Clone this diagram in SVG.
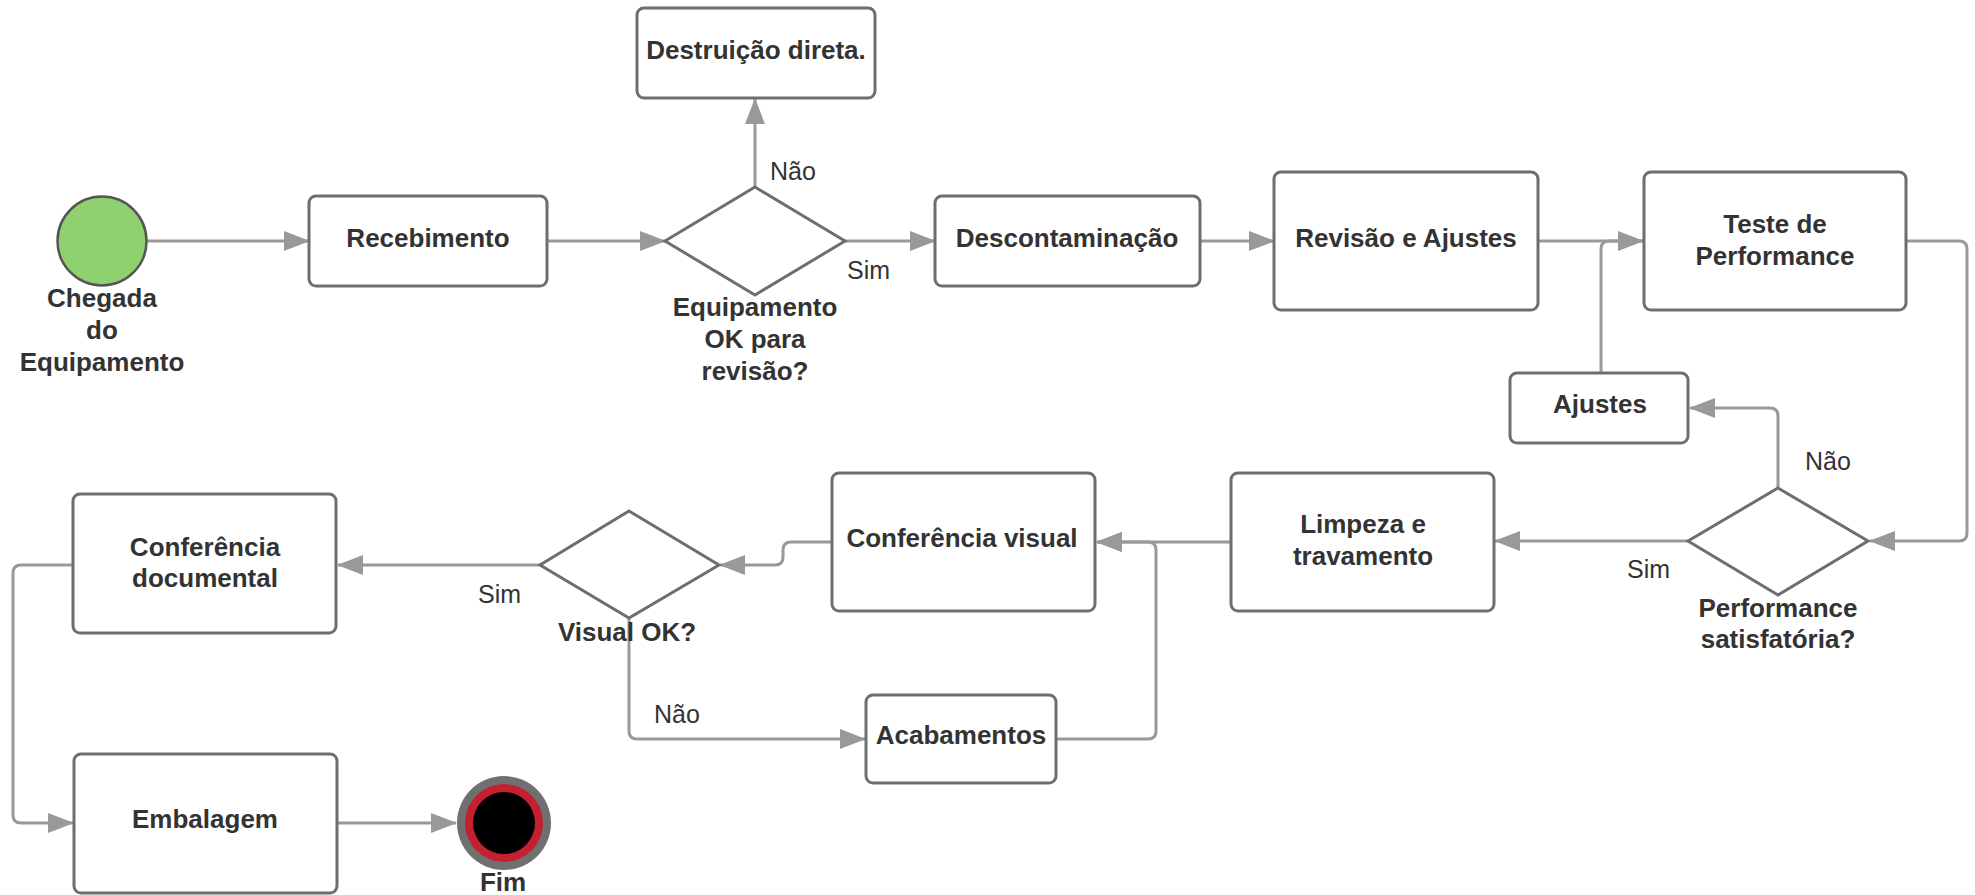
<svg xmlns="http://www.w3.org/2000/svg" width="1975" height="895" viewBox="0 0 1975 895">
<defs>
<marker id="arr" markerUnits="userSpaceOnUse" markerWidth="26" markerHeight="20" refX="25" refY="10" orient="auto">
<path d="M0,0 L26,10 L0,20 z" fill="#999"/>
</marker>
<style>
.box{fill:#fff;stroke:#6e6e6e;stroke-width:3}
.t{font-family:"Liberation Sans",Arial,sans-serif;font-size:26px;font-weight:bold;fill:#333;text-anchor:middle}
.l{font-family:"Liberation Sans",Arial,sans-serif;font-size:25px;fill:#333}
.c{fill:none;stroke:#999;stroke-width:3;stroke-linejoin:round}
</style>
</defs>
<rect width="1975" height="895" fill="#fff"/>
<g id="connectors">
<path class="c" d="M147,241 H309" marker-end="url(#arr)"/>
<path class="c" d="M547,241 H665" marker-end="url(#arr)"/>
<path class="c" d="M755,187 V99" marker-end="url(#arr)"/>
<path class="c" d="M845,241 H935" marker-end="url(#arr)"/>
<path class="c" d="M1200,241 H1274" marker-end="url(#arr)"/>
<path class="c" d="M1538,241 H1643" marker-end="url(#arr)"/>
<path class="c" d="M1601,373 V249 Q1601,241 1609,241 H1643"/>
<path class="c" d="M1906,241 H1959 Q1967,241 1967,249 V533 Q1967,541 1959,541 H1870" marker-end="url(#arr)"/>
<path class="c" d="M1778,488 V416 Q1778,408 1770,408 H1690" marker-end="url(#arr)"/>
<path class="c" d="M1688,541 H1495" marker-end="url(#arr)"/>
<path class="c" d="M1231,542 H1097" marker-end="url(#arr)"/>
<path class="c" d="M1056,739 H1148 Q1156,739 1156,731 V550 Q1156,542 1148,542 H1097" marker-end="url(#arr)"/>
<path class="c" d="M832,542 H791 Q783,542 783,550 V557 Q783,565 775,565 H720" marker-end="url(#arr)"/>
<path class="c" d="M540,565 H338" marker-end="url(#arr)"/>
<path class="c" d="M629,618 V731 Q629,739 637,739 H865" marker-end="url(#arr)"/>
<path class="c" d="M73,565 H21 Q13,565 13,573 V815 Q13,823 21,823 H73" marker-end="url(#arr)"/>
<path class="c" d="M337,823 H456" marker-end="url(#arr)"/>
</g>
<g id="start">
<circle cx="102" cy="241" r="44.5" fill="#8fd16e" stroke="#555" stroke-width="2.5"/>
<text class="t" x="102" y="307">Chegada</text>
<text class="t" x="102" y="339">do</text>
<text class="t" x="102" y="371">Equipamento</text>
</g>
<g id="recebimento">
<rect class="box" x="309" y="196" width="238" height="90" rx="7"/>
<text class="t" x="428" y="247">Recebimento</text>
</g>
<g id="destruicao">
<rect class="box" x="637" y="8" width="238" height="90" rx="7"/>
<text class="t" x="756" y="59">Destruição direta.</text>
</g>
<g id="decisao-ok">
<polygon class="box" points="755,187 845,241 755,295 665,241"/>
<text class="t" x="755" y="316">Equipamento</text>
<text class="t" x="755" y="348">OK para</text>
<text class="t" x="755" y="380">revisão?</text>
<text class="l" x="770" y="180">Não</text>
<text class="l" x="847" y="279">Sim</text>
</g>
<g id="descontaminacao">
<rect class="box" x="935" y="196" width="265" height="90" rx="7"/>
<text class="t" x="1067" y="247">Descontaminação</text>
</g>
<g id="revisao">
<rect class="box" x="1274" y="172" width="264" height="138" rx="7"/>
<text class="t" x="1406" y="247">Revisão e Ajustes</text>
</g>
<g id="teste">
<rect class="box" x="1644" y="172" width="262" height="138" rx="7"/>
<text class="t" x="1775" y="233">Teste de</text>
<text class="t" x="1775" y="265">Performance</text>
</g>
<g id="ajustes">
<rect class="box" x="1510" y="373" width="178" height="70" rx="7"/>
<text class="t" x="1600" y="413">Ajustes</text>
</g>
<g id="decisao-performance">
<polygon class="box" points="1778,488 1868,541 1778,595 1688,541"/>
<text class="t" x="1778" y="617">Performance</text>
<text class="t" x="1778" y="648">satisfatória?</text>
<text class="l" x="1805" y="470">Não</text>
<text class="l" x="1627" y="578">Sim</text>
</g>
<g id="limpeza">
<rect class="box" x="1231" y="473" width="263" height="138" rx="7"/>
<text class="t" x="1363" y="533">Limpeza e</text>
<text class="t" x="1363" y="565">travamento</text>
</g>
<g id="conferencia-visual">
<rect class="box" x="832" y="473" width="263" height="138" rx="7"/>
<text class="t" x="962" y="547">Conferência visual</text>
</g>
<g id="acabamentos">
<rect class="box" x="866" y="695" width="190" height="88" rx="7"/>
<text class="t" x="961" y="744">Acabamentos</text>
</g>
<g id="decisao-visual">
<polygon class="box" points="629,511 719,565 629,618 540,565"/>
<text class="t" x="627" y="641">Visual OK?</text>
<text class="l" x="478" y="603">Sim</text>
<text class="l" x="654" y="723">Não</text>
</g>
<g id="conferencia-documental">
<rect class="box" x="73" y="494" width="263" height="139" rx="7"/>
<text class="t" x="205" y="556">Conferência</text>
<text class="t" x="205" y="587">documental</text>
</g>
<g id="embalagem">
<rect class="box" x="74" y="754" width="263" height="139" rx="7"/>
<text class="t" x="205" y="828">Embalagem</text>
</g>
<g id="fim">
<circle cx="504" cy="823" r="47" fill="#707070"/>
<circle cx="504" cy="823" r="39" fill="#c4202f"/>
<circle cx="504" cy="823" r="31" fill="#000"/>
<text class="t" x="503" y="891">Fim</text>
</g>
</svg>
